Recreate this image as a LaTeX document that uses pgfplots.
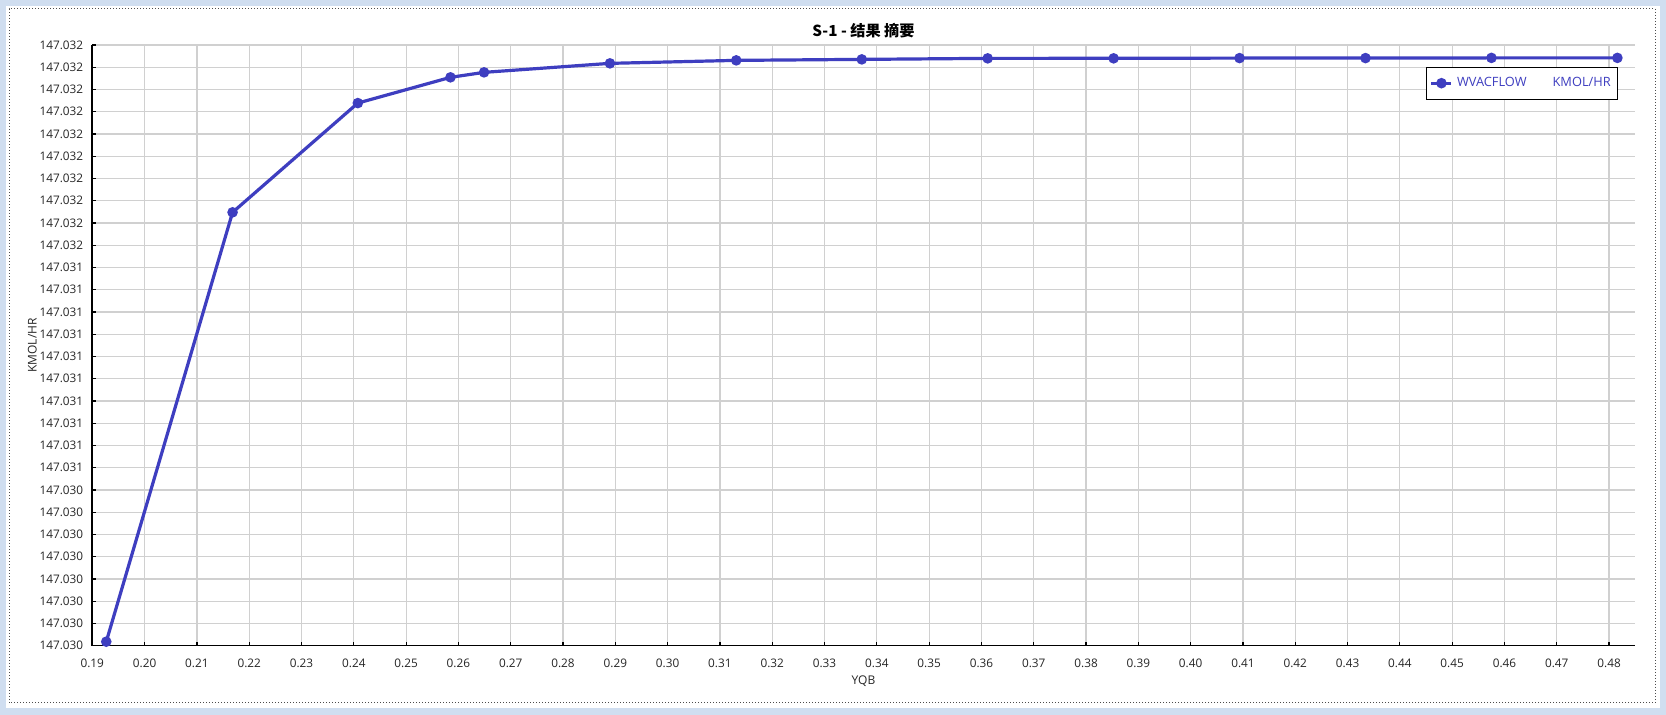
\documentclass[border=0pt]{standalone}
\usepackage{pgfplots}
\pgfplotsset{compat=1.18}
\usepackage{fontspec}
\setmainfont{Open Sans}
\newfontfamily\cjk{Noto Sans CJK SC}
\definecolor{serieblue}{RGB}{62,62,192}
\definecolor{gridgray}{RGB}{208,208,208}
\definecolor{winblue}{RGB}{208,222,240}

\begin{document}
\begin{tikzpicture}
% window frame, in pixel units of the 1666x715 picture
\begin{scope}[x=0.5pt,y=0.5pt]
  \fill[winblue] (0,0) rectangle (1666,715);
  \fill[white] (6,7) rectangle (1660,709);
  \draw[black!70, densely dotted, line width=0.5pt] (9,12) rectangle (1655,706);
  \useasboundingbox (0,0) rectangle (1666,715);
\end{scope}
\begin{axis}[
  at={(46.15pt,34.65pt)}, anchor=south west,
  scale only axis, width=771.2pt, height=300.35pt,
  xmin=0.19, xmax=0.4849,
  ymin=147.02975, ymax=147.03245,
  axis x line*=bottom, axis y line*=left,
  axis line style={black, line width=0.8pt},
  tick align=inside, major tick length=2pt,
  tick style={black, line width=0.6pt},
  grid=major, major grid style={gridgray, line width=0.6pt},
  xtick={0.19,0.20,0.21,0.22,0.23,0.24,0.25,0.26,0.27,0.28,0.29,0.30,0.31,0.32,0.33,0.34,0.35,0.36,0.37,0.38,0.39,0.40,0.41,0.42,0.43,0.44,0.45,0.46,0.47,0.48},
  xticklabel style={/pgf/number format/fixed, /pgf/number format/fixed zerofill,
    /pgf/number format/precision=2, /pgf/number format/assume math mode=true, yshift=-3pt},
  ytick={147.02975,147.02985,147.02995,147.03005,147.03015,147.03025,147.03035,147.03045,
    147.03055,147.03065,147.03075,147.03085,147.03095,147.03105,147.03115,147.03125,147.03135,147.03145,
    147.03155,147.03165,147.03175,147.03185,147.03195,147.03205,147.03215,147.03225,147.03235,147.03245},
  yticklabels={147.030,147.030,147.030,147.030,147.030,147.030,147.030,147.030,
    147.031,147.031,147.031,147.031,147.031,147.031,147.031,147.031,147.031,147.031,
    147.032,147.032,147.032,147.032,147.032,147.032,147.032,147.032,147.032,147.032},
  yticklabel style={xshift=-1pt},
  tick label style={font=\fontsize{5.9}{7}\selectfont, text=black!85},
  xlabel={YQB}, ylabel={KMOL/HR},
  label style={font=\fontsize{6}{7}\selectfont, text=black!85},
  xlabel style={at={(axis description cs:0.5,0)}, anchor=center, yshift=-17.5pt},
  ylabel style={at={(axis description cs:-0.0389,0.5)}, anchor=center},
  title={\cjk\bfseries S-1 - 结果 摘要},
  title style={font=\fontsize{7.6}{9}\selectfont, at={(axis description cs:0.5,1)}, anchor=south, yshift=-6pt},
  legend style={at={(1,1)}, anchor=north east, xshift=-8.2pt, yshift=-10.8pt,
    draw=black, line width=0.6pt, font=\fontsize{6.4}{7}\selectfont, text=serieblue,
    inner sep=1.5pt, minimum height=13pt},
  legend image code/.code={\draw[mark repeat=2, mark phase=2, #1] plot coordinates {(0pt,0pt) (5pt,0pt) (10pt,0pt)};},
  legend cell align=left,
]
\addplot[serieblue, line width=1.6pt, mark=*, mark size=1.8pt, mark options={fill=serieblue, draw=serieblue}] coordinates {
  (0.19267,147.029768)
  (0.21682,147.0316978)
  (0.24077,147.0321889)
  (0.25848,147.0323045)
  (0.26490,147.0323269)
  (0.28897,147.0323674)
  (0.31312,147.0323808)
  (0.33712,147.0323853)
  (0.36119,147.0323898)
  (0.38527,147.0323900)
  (0.40935,147.0323910)
  (0.43343,147.0323910)
  (0.45751,147.0323920)
  (0.48159,147.0323920)
};
\addlegendentry{WVACFLOW\hspace{13pt}KMOL/HR}
\end{axis}
\end{tikzpicture}
\end{document}
